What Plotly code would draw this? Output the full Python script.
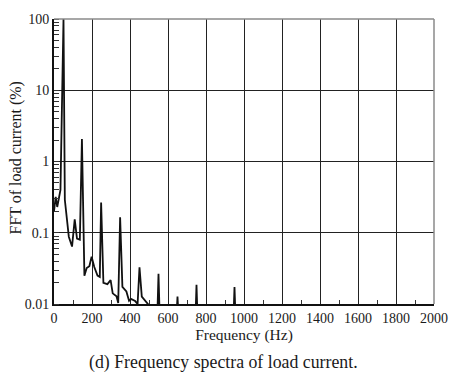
import plotly.graph_objects as go

# Spectrum of the load current (frequency in Hz, magnitude in % of fundamental)
freq_hz = [0, 9, 17, 34, 50, 57, 78, 95, 109, 121, 136, 147, 160, 172, 186, 198,
           212, 229, 241, 248, 260, 281, 298, 309, 329, 338, 348, 360, 381, 395,
           405, 427, 440, 450, 462, 479, 497, 510, 544, 550, 556, 645, 650, 655,
           745, 750, 755, 945, 950, 955, 1100, 2000]
fft_pct = [0.2, 0.32, 0.23, 0.4, 100, 0.29, 0.088, 0.064, 0.154, 0.083, 0.08, 2.07,
           0.025, 0.032, 0.034, 0.046, 0.033, 0.025, 0.024, 0.265, 0.0198, 0.019,
           0.0216, 0.0141, 0.0128, 0.0103, 0.165, 0.0174, 0.015, 0.0111, 0.0118,
           0.011, 0.01, 0.0328, 0.0127, 0.011, 0.0098, 0.007, 0.007, 0.0266, 0.007,
           0.007, 0.0127, 0.007, 0.007, 0.0186, 0.007, 0.007, 0.0173, 0.007, 0.007,
           0.007]

y_ticks = [0.01, 0.1, 1, 10, 100]
y_tick_text = ["0.01", "0.1", "1", "10", "100"]

SERIF = "Liberation Serif"
INK = "#1a1a1a"

fig = go.Figure()
fig.add_trace(go.Scatter(
    x=freq_hz, y=fft_pct, mode="lines",
    line=dict(color="#111111", width=1.8),
    showlegend=False, hoverinfo="skip",
))

fig.update_layout(
    width=460, height=372,
    margin=dict(l=54, r=16, t=18, b=68),
    paper_bgcolor="white", plot_bgcolor="white",
    font=dict(family=SERIF, size=14, color=INK),
    xaxis=dict(
        range=[0, 2000], dtick=200, tick0=0,
        showgrid=True, gridcolor="#222222", gridwidth=1,
        showline=True, linecolor="#111111", linewidth=2,
        ticks="", zeroline=False,
        tickfont=dict(family=SERIF, size=14, color=INK),
        minor=dict(ticks="inside", dtick=100, tick0=0, ticklen=4,
                   tickcolor="#333333", tickwidth=1, showgrid=False),
        title=dict(text="Frequency (Hz)", standoff=0,
                   font=dict(family=SERIF, size=15.5, color=INK)),
    ),
    yaxis=dict(
        type="log", range=[-2, 2],
        tickvals=y_ticks, ticktext=y_tick_text,
        showgrid=True, gridcolor="#222222", gridwidth=1,
        showline=True, linecolor="#111111", linewidth=2,
        ticks="", zeroline=False,
        tickfont=dict(family=SERIF, size=14, color=INK),
        minor=dict(ticks="inside", dtick="D1", ticklen=5,
                   tickcolor="#333333", tickwidth=1, showgrid=False),
    ),
    shapes=[
        dict(type="line", xref="paper", yref="paper", x0=0, x1=1, y0=1, y1=1,
             line=dict(color="#8a8a8a", width=1.5)),
        dict(type="line", xref="paper", yref="paper", x0=1, x1=1, y0=0, y1=1,
             line=dict(color="#8a8a8a", width=1.5)),
    ],
    annotations=[
        dict(text="FFT of load current (%)", textangle=-90,
             xref="paper", yref="paper", x=0, y=0.5, xshift=-39, yshift=3,
             xanchor="center", yanchor="middle", showarrow=False,
             font=dict(family=SERIF, size=16, color=INK)),
        dict(text="(d) Frequency spectra of load current.",
             xref="paper", yref="paper", x=0.445, y=0, yshift=-58,
             xanchor="center", yanchor="middle", showarrow=False,
             font=dict(family=SERIF, size=17.8, color=INK)),
    ],
)

fig.write_html("out.html")
